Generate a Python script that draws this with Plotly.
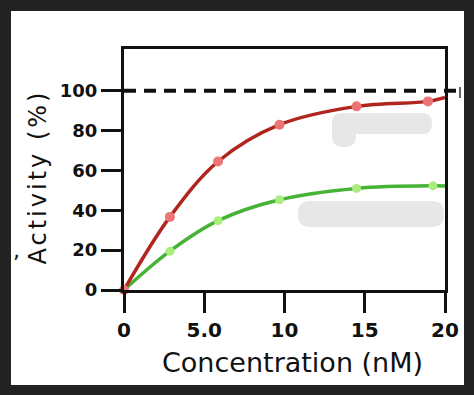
import plotly.graph_objects as go

# ---- data ----
conc_red = [0, 2.86, 5.86, 9.69, 14.49, 18.94]
activity_red = [0, 36.7, 64.5, 83.0, 92.2, 94.7]
conc_green = [0, 2.86, 5.86, 9.69, 14.49, 19.25]
activity_green = [0, 19.5, 34.8, 45.3, 51.0, 52.3]
curve_end_conc = 20
curve_end_red = 96.7
curve_end_green = 52.2
reference_level = 100

x_tick_vals = [0, 5, 10, 15, 20]
x_tick_text = ["0", "5.0", "10", "15", "20"]
y_tick_vals = [0, 20, 40, 60, 80, 100]
y_tick_text = ["0", "20", "40", "60", "80", "100"]

x_title = "Concentration (nM)"
y_title = "Activity (%)"

# ---- layout geometry (pixels) ----
W, H = 474, 395
L, R, T, B = 124, 445, 49, 290
Y_MAX = 121


def px(X):
    return (X - L) / (R - L)


def py(Y):
    return (B - Y) / (B - T)


def rounded_rect(x0, y0, x1, y1, r):
    # pixel coordinates -> paper path with rounded corners
    pts = [
        ("M", [(x0 + r, y0)]),
        ("L", [(x1 - r, y0)]),
        ("Q", [(x1, y0), (x1, y0 + r)]),
        ("L", [(x1, y1 - r)]),
        ("Q", [(x1, y1), (x1 - r, y1)]),
        ("L", [(x0 + r, y1)]),
        ("Q", [(x0, y1), (x0, y1 - r)]),
        ("L", [(x0, y0 + r)]),
        ("Q", [(x0, y0), (x0 + r, y0)]),
    ]
    s = ""
    for cmd, ps in pts:
        s += cmd + " " + " ".join(f"{px(a):.5f},{py(b):.5f}" for a, b in ps) + " "
    return s + "Z"


fig = go.Figure()

fig.add_trace(go.Scatter(
    x=conc_green + [curve_end_conc], y=activity_green + [curve_end_green],
    mode="lines", line=dict(color="#46b236", width=3.5, shape="spline"),
    hoverinfo="skip", showlegend=False))
fig.add_trace(go.Scatter(
    x=conc_green, y=activity_green, mode="markers",
    marker=dict(color="#a8ee7c", size=9), cliponaxis=False, showlegend=False))
fig.add_trace(go.Scatter(
    x=conc_red + [curve_end_conc], y=activity_red + [curve_end_red],
    mode="lines", line=dict(color="#b0261f", width=3.5, shape="spline"),
    hoverinfo="skip", showlegend=False))
fig.add_trace(go.Scatter(
    x=conc_red, y=activity_red, mode="markers",
    marker=dict(color="#ec7676", size=10), cliponaxis=False, showlegend=False))

shapes = []
# grey redaction blobs
blob = "#e7e7e7"
for (x0, y0, x1, y1, r) in [(332, 113, 432, 134, 10), (332, 113, 356, 147, 11), (298, 201, 444, 227, 12)]:
    shapes.append(dict(type="path", xref="paper", yref="paper", path=rounded_rect(x0, y0, x1, y1, r),
                       fillcolor=blob, line=dict(width=0), layer="below"))
# dashed reference line at 100 %
yref_p = reference_level / Y_MAX
shapes.append(dict(type="line", xref="paper", yref="paper", x0=0, x1=px(457), y0=yref_p, y1=yref_p,
                   line=dict(color="#111111", width=4, dash="12px,8px"), layer="above"))
shapes.append(dict(type="line", xref="paper", yref="paper", x0=px(460), x1=px(460), y0=py(87), y1=py(98),
                   line=dict(color="#333333", width=1.5), layer="above"))
# dark picture frame
dark = "#222222"
for (x0, y0, x1, y1) in [(0, 0, W, 11), (0, 385, W, H), (0, 0, 11, H), (464, 0, W, H)]:
    shapes.append(dict(type="rect", xref="paper", yref="paper", x0=px(x0), x1=px(x1), y0=py(y1), y1=py(y0),
                       fillcolor=dark, line=dict(width=0), layer="above"))

annotations = [
    dict(text=y_title, xref="paper", yref="paper", x=px(37.5), y=py(177), xanchor="center", yanchor="middle",
         textangle=-90, showarrow=False, font=dict(family="DejaVu Sans", size=24, color="#111111")),
    dict(text=x_title, xref="paper", yref="paper", x=px(292.5), y=py(362), xanchor="center", yanchor="middle",
         showarrow=False, font=dict(family="DejaVu Sans", size=27, color="#111111")),
    dict(text=",", xref="paper", yref="paper", x=px(16), y=py(250), xanchor="center", yanchor="middle",
         showarrow=False, font=dict(family="DejaVu Sans", size=22, color="#111111")),
]

axis_common = dict(showgrid=False, zeroline=False, showline=True, linecolor="#111111", linewidth=3,
                   mirror=True, ticks="outside", ticklen=20, tickwidth=3, tickcolor="#111111")

fig.update_layout(
    width=W, height=H,
    margin=dict(l=L, r=W - R, t=T, b=H - B, pad=0),
    paper_bgcolor="white", plot_bgcolor="rgba(0,0,0,0)",
    showlegend=False,
    xaxis=dict(range=[0, 20], tickvals=x_tick_vals, ticktext=x_tick_text,
               tickfont=dict(family="DejaVu Sans", size=20, color="#111111", weight="bold"), **axis_common),
    yaxis=dict(range=[0, Y_MAX], tickvals=y_tick_vals, ticktext=y_tick_text,
               tickfont=dict(family="DejaVu Sans", size=18, color="#111111", weight="bold"), **axis_common),
    shapes=shapes,
    annotations=annotations,
)

post = """
document.body.style.margin = '0';
var s = document.createElement('style');
s.textContent = 'body { margin: 0; } .annotation[data-index="0"] text { letter-spacing: 3px; }';
document.head.appendChild(s);
"""
fig.write_html("out.html", post_script=post, config={"displayModeBar": False, "staticPlot": True})
